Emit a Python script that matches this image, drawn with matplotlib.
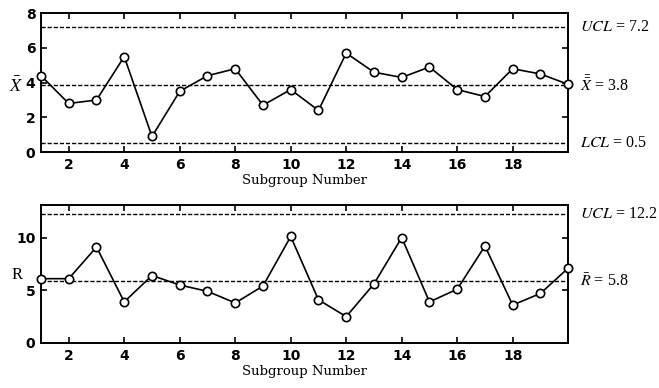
import matplotlib
matplotlib.use("Agg")
import matplotlib.pyplot as plt

plt.rcParams['mathtext.fontset'] = 'stix'

subgroups = list(range(1, 21))
xbar = [4.4, 2.8, 3.0, 5.5, 0.9, 3.5, 4.4, 4.8, 2.7, 3.6,
        2.4, 5.7, 4.6, 4.3, 4.9, 3.6, 3.2, 4.8, 4.5, 3.9]
rng = [6.1, 6.1, 9.1, 3.9, 6.4, 5.5, 4.9, 3.8, 5.4, 10.1,
       4.1, 2.5, 5.6, 10.0, 3.9, 5.1, 9.2, 3.6, 4.7, 7.1]

xbar_ucl, xbar_center, xbar_lcl = 7.2, 3.88, 0.52
r_ucl, r_center = 12.25, 5.85
xbar_labels = [r'$UCL$ = 7.2', r'$\bar{\bar{X}}$ = 3.8', r'$LCL$ = 0.5']
r_labels = [r'$UCL$ = 12.2', r'$\bar{R}$ = 5.8']
xticks = [2, 4, 6, 8, 10, 12, 14, 16, 18]

fig = plt.figure(figsize=(6.59, 3.88), dpi=100)
ax1 = fig.add_axes([0.0622, 0.608, 0.800, 0.358])
ax2 = fig.add_axes([0.0622, 0.116, 0.800, 0.356])

serif = 'DejaVu Serif'
dash = (0, (3, 1.4))

def style(ax):
    for s in ax.spines.values():
        s.set_linewidth(1.4)
    ax.tick_params(direction='in', top=True, right=True, length=4, width=1.2,
                   labelsize=10, pad=4)
    ax.set_xticks(xticks)
    ax.set_xlim(1, 20)
    for lab in ax.get_xticklabels() + ax.get_yticklabels():
        lab.set_fontfamily('DejaVu Sans')
        lab.set_fontweight('bold')

# X-bar chart
for v in (xbar_ucl, xbar_center, xbar_lcl):
    ax1.axhline(v, color='black', lw=1.0, ls=dash)
ax1.plot(subgroups, xbar, color='black', lw=1.2, marker='o', ms=6,
         mfc='white', mec='black', mew=1.2, clip_on=False, zorder=3)
ax1.set_ylim(0, 8)
ax1.set_yticks([0, 2, 4, 6, 8])
style(ax1)
ax1.set_xlabel('Subgroup Number', fontfamily=serif, fontsize=9.5, labelpad=1.5)
ax1.set_ylabel(r'$\bar{X}$', fontsize=13, rotation=0, va='center')
ax1.yaxis.set_label_coords(-0.048, 0.47)
for v, t in zip((xbar_ucl, xbar_center, xbar_lcl), xbar_labels):
    ax1.text(1.022, v, t, transform=ax1.get_yaxis_transform(), fontfamily='Liberation Serif',
             fontsize=11.5, va='center', ha='left')

# R chart
for v in (r_ucl, r_center):
    ax2.axhline(v, color='black', lw=1.0, ls=dash)
ax2.plot(subgroups, rng, color='black', lw=1.2, marker='o', ms=6,
         mfc='white', mec='black', mew=1.2, clip_on=False, zorder=3)
ax2.set_ylim(0, 13.1)
ax2.set_yticks([0, 5, 10])
style(ax2)
ax2.set_xlabel('Subgroup Number', fontfamily=serif, fontsize=9.5, labelpad=1.5)
ax2.set_ylabel('R', fontfamily='Liberation Serif', fontsize=12, rotation=0, va='center')
ax2.yaxis.set_label_coords(-0.045, 0.49)
for v, t in zip((r_ucl, r_center), r_labels):
    ax2.text(1.022, v, t, transform=ax2.get_yaxis_transform(), fontfamily='Liberation Serif',
             fontsize=11.5, va='center', ha='left')

fig.savefig('out.png', dpi=100)
